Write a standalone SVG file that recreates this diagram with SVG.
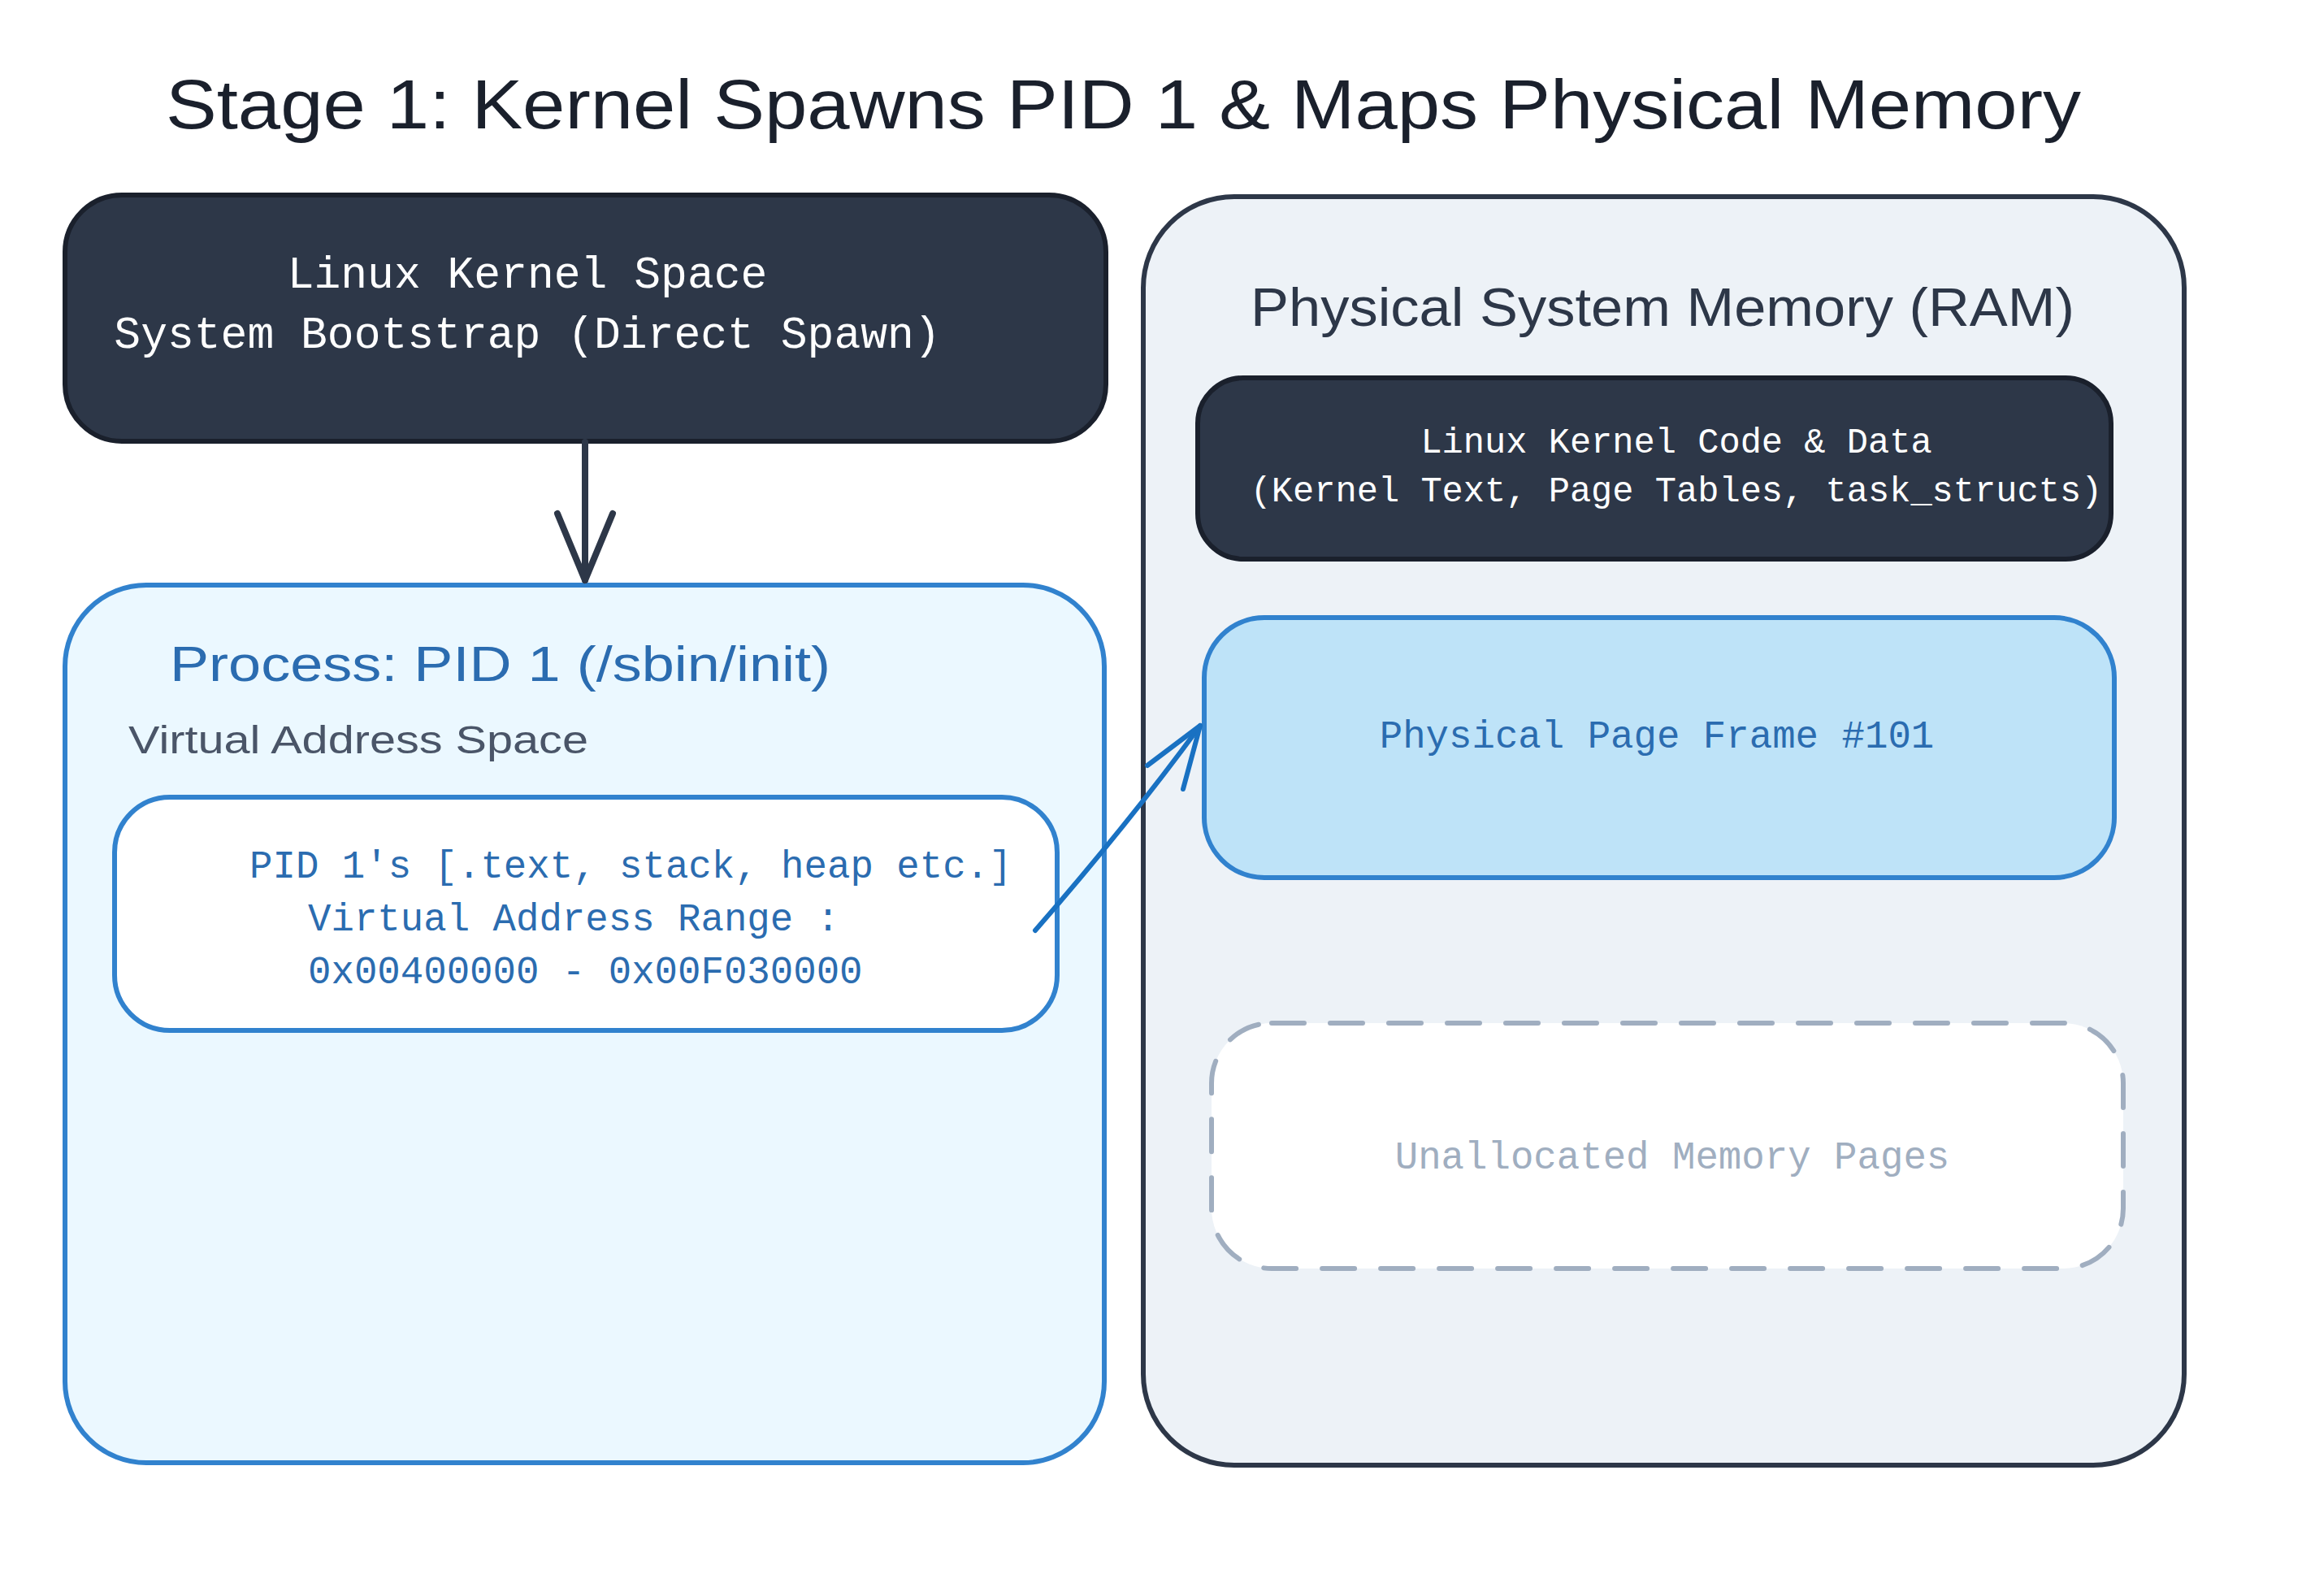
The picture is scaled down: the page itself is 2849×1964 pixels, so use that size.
<svg xmlns="http://www.w3.org/2000/svg" width="2849" height="1964" viewBox="0 0 2849 1964">
<defs>
<style>
.hand{font-family:"Liberation Sans","DejaVu Sans",sans-serif;}
.mono{font-family:"Liberation Mono","DejaVu Sans Mono",monospace;}
.box{stroke-width:6;stroke-linejoin:round;}
.conn{fill:none;stroke-linecap:round;stroke-linejoin:round;}
</style>
</defs>
<rect x="0" y="0" width="2849" height="1964" fill="#ffffff"/>
<g id="title">
<text class="hand" x="204" y="158" font-size="86" fill="#1a202c" textLength="2357" lengthAdjust="spacingAndGlyphs">Stage 1: Kernel Spawns PID 1 &amp; Maps Physical Memory</text>
</g>
<g id="ram-container">
<rect class="box" x="1407" y="242" width="1281" height="1561" rx="112" fill="#edf2f7" stroke="#2d3748"/>
<text class="hand" x="1539" y="401" font-size="66" fill="#2d3748" textLength="1014" lengthAdjust="spacingAndGlyphs">Physical System Memory (RAM)</text>
</g>
<g id="kernel-space">
<rect class="box" x="80" y="240" width="1281" height="303" rx="70" fill="#2d3748" stroke="#1a202c"/>
<text class="mono" x="649" y="354" font-size="54.7" fill="#ffffff" text-anchor="middle">Linux Kernel Space</text>
<text class="mono" x="649" y="428" font-size="54.7" fill="#ffffff" text-anchor="middle">System Bootstrap (Direct Spawn)</text>
</g>
<g id="process-pid1">
<rect class="box" x="80" y="720" width="1279" height="1080" rx="100" fill="#ebf8ff" stroke="#3182ce"/>
<text class="hand" x="209" y="838" font-size="62" fill="#2b6cb0" textLength="813" lengthAdjust="spacingAndGlyphs">Process: PID 1 (/sbin/init)</text>
<text class="hand" x="158" y="927" font-size="48" fill="#4a5568" textLength="566" lengthAdjust="spacingAndGlyphs">Virtual Address Space</text>
</g>
<g id="vaddr-range">
<rect class="box" x="141" y="981" width="1160" height="287" rx="68" fill="#ffffff" stroke="#3182ce"/>
<text class="mono" x="307" y="1080" font-size="47.4" fill="#2b6cb0">PID 1's [.text, stack, heap etc.]</text>
<text class="mono" x="379" y="1145" font-size="47.4" fill="#2b6cb0">Virtual Address Range :</text>
<text class="mono" x="379" y="1210" font-size="47.4" fill="#2b6cb0">0x00400000 - 0x00F030000</text>
</g>
<g id="kernel-code">
<rect class="box" x="1474" y="465" width="1124" height="223" rx="56" fill="#2d3748" stroke="#1a202c"/>
<text class="mono" x="2063" y="557" font-size="43.7" fill="#ffffff" text-anchor="middle">Linux Kernel Code &amp; Data</text>
<text class="mono" x="2063" y="617" font-size="43.7" fill="#ffffff" text-anchor="middle">(Kernel Text, Page Tables, task_structs)</text>
</g>
<g id="page-frame">
<rect class="box" x="1482" y="760" width="1120" height="320" rx="74" fill="#bee3f8" stroke="#3182ce"/>
<text class="mono" x="2039" y="920" font-size="47.4" fill="#2b6cb0" text-anchor="middle">Physical Page Frame #101</text>
</g>
<g id="unallocated">
<rect class="box" x="1491" y="1259" width="1122" height="302" rx="74" fill="#ffffff" stroke="#a0aec0" stroke-dasharray="40 32" stroke-linecap="round"/>
<text class="mono" x="2058" y="1438" font-size="47.4" fill="#a0aec0" text-anchor="middle">Unallocated Memory Pages</text>
</g>
<g id="connectors">
<g class="conn" stroke="#2d3748" stroke-width="8">
<path d="M720,544 L720,714"/>
<path d="M686,632 L720,714 L754,632"/>
</g>
<g class="conn" stroke="#1971c2" stroke-width="6">
<path d="M1274,1145 Q1390,1012 1477,893"/>
<path d="M1412,942 L1477,893 L1456,971"/>
</g>
</g>
</svg>
